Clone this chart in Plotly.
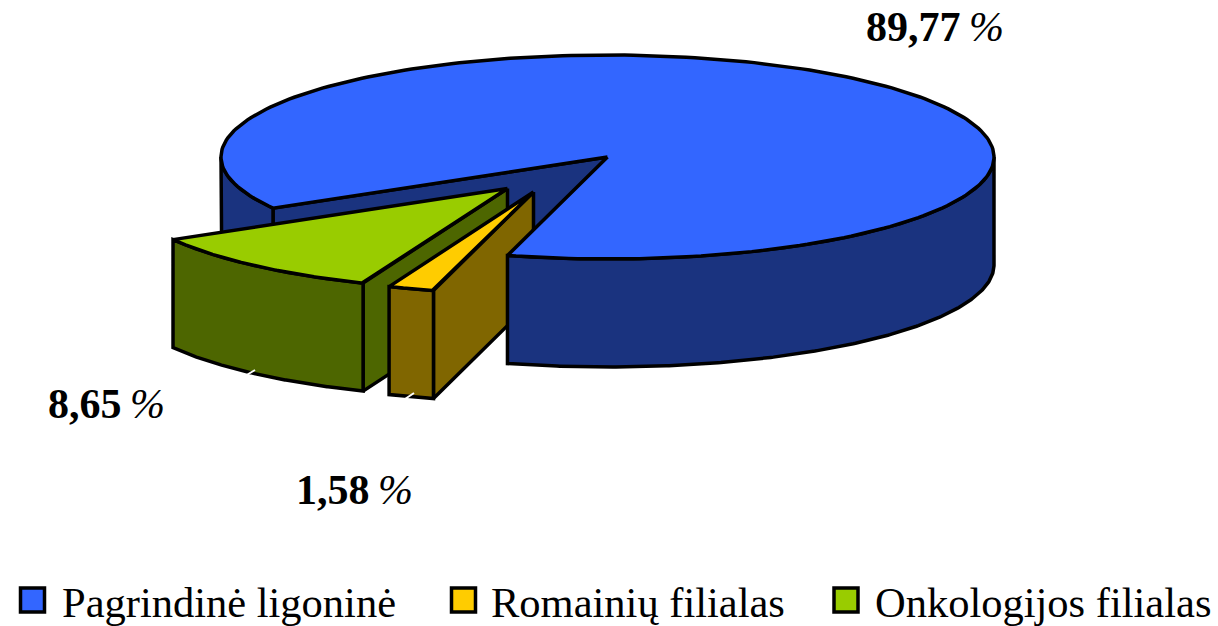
import numpy as np
import plotly.graph_objects as go

categories = ["Pagrindinė ligoninė", "Romainių filialas", "Onkologijos filialas"]
shares = [89.77, 1.58, 8.65]
share_labels = ["89,77", "1,58", "8,65"]

top_colors = ["#3366FF", "#FFCC00", "#99CC00"]
side_colors = ["#1A337F", "#806600", "#4D6600"]

W, H = 1218, 626
CX, CY, RX, RY, DEPTH = 607.5, 157.0, 386.5, 102.0, 108.0
CUT_END = 105.0          # screen-angle where the big slice ends
STRETCH = 1.22           # perspective widening of the front slices
OFFSETS = [(0, 0), (-74, 35), (-100, 31.5)]
EDGE = "#000000"
LW = 3.5

yellow_start = CUT_END
yellow_end = yellow_start + STRETCH * 3.6 * shares[1]
green_end = yellow_end + STRETCH * 3.6 * shares[2]
main_start, main_end = green_end, CUT_END + 360


def arc(t0, t1, ox=0, oy=0, dy=0):
    t = np.radians(np.linspace(t0, t1, 240))
    return CX + ox + RX * np.cos(t), CY + oy + dy + RY * np.sin(t)


def poly(fig, xs, ys, color):
    fig.add_trace(go.Scatter(
        x=list(xs) + [xs[0]], y=list(ys) + [ys[0]], mode="lines", fill="toself",
        fillcolor=color, line=dict(color=EDGE, width=LW), hoverinfo="skip", showlegend=False))


def outer_wall(fig, t0, t1, ox, oy, color):
    ax, ay = arc(t0, t1, ox, oy)
    bx, by = arc(t1, t0, ox, oy, DEPTH)
    poly(fig, np.r_[ax, bx], np.r_[ay, by], color)


def inner_wall(fig, t, ox, oy, color):
    ex, ey = arc(t, t, ox, oy)
    px, py = CX + ox, CY + oy
    poly(fig, [px, ex[0], ex[0], px], [py, ey[0], ey[0] + DEPTH, py + DEPTH], color)


def top_face(fig, t0, t1, ox, oy, color):
    ax, ay = arc(t0, t1, ox, oy)
    poly(fig, np.r_[CX + ox, ax], np.r_[CY + oy, ay], color)


fig = go.Figure()

# big slice: back parts
inner_wall(fig, main_start, 0, 0, side_colors[0])
outer_wall(fig, main_start, 180, 0, 0, side_colors[0])

# Onkologijos slice
ox, oy = OFFSETS[2]
inner_wall(fig, yellow_end, ox, oy, side_colors[2])
outer_wall(fig, yellow_end, green_end, ox, oy, side_colors[2])
top_face(fig, yellow_end, green_end, ox, oy, top_colors[2])

# Romainių slice
ox, oy = OFFSETS[1]
inner_wall(fig, yellow_start, ox, oy, side_colors[1])
outer_wall(fig, yellow_start, yellow_end, ox, oy, side_colors[1])
top_face(fig, yellow_start, yellow_end, ox, oy, top_colors[1])

# big slice: front wall and top face
outer_wall(fig, 360, main_end, 0, 0, side_colors[0])
top_face(fig, main_start, main_end, 0, 0, top_colors[0])

# white leader stubs
for x0, y0, x1, y1 in [(245, 376, 255, 370), (405, 399, 414, 393)]:
    fig.add_shape(type="line", x0=x0, y0=y0, x1=x1, y1=y1, line=dict(color="#FFFFFF", width=2))

# legend swatches
legend_x = [32.5, 463.5, 846]
legend_text_x = [60, 488.5, 873]
legend_y = 600
fig.add_trace(go.Scatter(
    x=legend_x, y=[legend_y] * 3, mode="markers",
    marker=dict(symbol="square", size=24, color=top_colors, line=dict(color=EDGE, width=3.5)),
    hoverinfo="skip", showlegend=False))

annotations = []
for name, x in zip(categories, legend_text_x):
    annotations.append(dict(x=x, y=legend_y + 2, text=name, showarrow=False, xanchor="left", yanchor="middle",
                            font=dict(family="Liberation Serif", size=42.5, color="#000000")))

label_pos = [(864, 27), (294, 490), (46, 404)]
for lab, (x, y) in zip(share_labels, label_pos):
    annotations.append(dict(x=x, y=y, text=f"<b>{lab}</b>\u2009<i>%</i>", showarrow=False, xanchor="left", yanchor="middle",
                            font=dict(family="Liberation Serif", size=42, color="#000000")))

fig.update_layout(
    width=W, height=H, margin=dict(l=0, r=0, t=0, b=0),
    paper_bgcolor="#FFFFFF", plot_bgcolor="#FFFFFF", showlegend=False,
    xaxis=dict(range=[0, W], visible=False, fixedrange=True),
    yaxis=dict(range=[H, 0], visible=False, fixedrange=True),
    annotations=annotations,
)
fig.write_html("out.html", config={"displayModeBar": False},
               post_script="document.body.style.margin='0';document.documentElement.style.overflow='hidden';")
